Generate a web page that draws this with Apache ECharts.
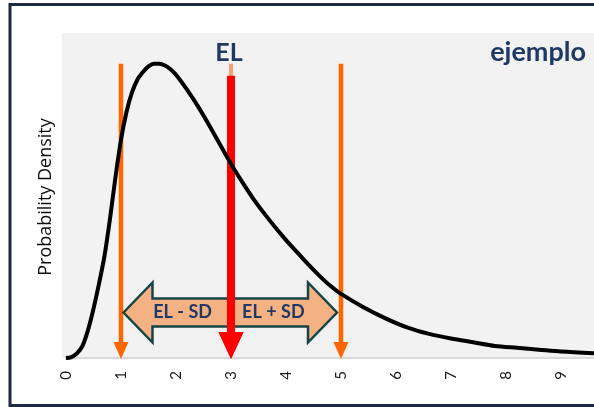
<!DOCTYPE html>
<html>
<head>
<meta charset="utf-8">
<script src="https://cdn.jsdelivr.net/npm/echarts@6/dist/echarts.min.js"></script>
<style>
html,body{margin:0;padding:0;background:#fff;}
#chart{width:594px;height:407px;}
</style>
</head>
<body>
<div id="chart"></div>
<script>
// Curve: x (loss) and probability density
const curveX = [0, 0.1, 0.2, 0.3, 0.4, 0.5, 0.6, 0.7, 0.8, 0.9, 1.0, 1.1, 1.2, 1.3, 1.4, 1.5, 1.6, 1.7, 1.8, 1.9, 2.0, 2.2, 2.4, 2.6, 2.8, 3.0, 3.2, 3.4, 3.6, 3.8, 4.0, 4.2, 4.4, 4.6, 4.8, 5.0, 5.4, 5.8, 6.2, 6.6, 7.0, 7.4, 7.8, 8.2, 8.6, 9.0, 9.6];
const curveY = [0, 0.001, 0.005, 0.013, 0.030, 0.053, 0.080, 0.110, 0.150, 0.195, 0.235, 0.265, 0.286, 0.300, 0.308, 0.314, 0.317, 0.317, 0.315, 0.311, 0.305, 0.289, 0.271, 0.251, 0.230, 0.209, 0.190, 0.172, 0.156, 0.141, 0.127, 0.114, 0.101, 0.089, 0.078, 0.069, 0.055, 0.043, 0.033, 0.026, 0.021, 0.017, 0.013, 0.011, 0.009, 0.007, 0.005];
const xTicks = [0, 1, 2, 3, 4, 5, 6, 7, 8, 9];
const EL = 3;
const SD = 2;
const orangeArrowX = [EL - SD, EL + SD];
const orangeTop = 0.317;
const redTop = 0.304;
const bandY = 0.049;
const bandLabels = ['EL - SD', 'EL + SD'];
const bandLabelX = [2.12, 3.77];
const titleText = 'ejemplo';
const elText = 'EL';
const yTitle = 'Probability Density';

const chart = echarts.init(document.getElementById('chart'), null, {renderer: 'canvas'});
const navy = '#1f3864';

function vArrow(api, x, top, color, lw, headW, headL, opacity) {
  const p0 = api.coord([x, top]);
  const p1 = api.coord([x, 0]);
  return {
    type: 'group',
    children: [
      {type: 'line', shape: {x1: p0[0], y1: p0[1], x2: p1[0], y2: p1[1] - headL + 1},
       style: {stroke: color, lineWidth: lw, opacity: opacity}},
      {type: 'polygon', shape: {points: [[p1[0] - headW / 2, p1[1] - headL], [p1[0] + headW / 2, p1[1] - headL], [p1[0], p1[1] + 1]]},
       style: {fill: color, opacity: opacity}}
    ]
  };
}

chart.setOption({
  animation: false,
  backgroundColor: '#ffffff',
  grid: {left: 66, right: 0, top: 33, bottom: 49, containLabel: false},
  xAxis: {
    type: 'value', min: 0, max: 9.6, interval: 1,
    axisLine: {show: true, lineStyle: {color: '#d9d9d9', width: 2}},
    axisTick: {show: false},
    splitLine: {show: false},
    axisLabel: {
      rotate: 90, margin: 13, fontSize: 15, color: '#1a1a1a', fontFamily: 'Lato',
      formatter: function (v) { return xTicks.indexOf(v) >= 0 ? String(v) : ''; }
    }
  },
  yAxis: {
    type: 'value', min: 0, max: 0.35,
    axisLine: {show: false}, axisTick: {show: false}, axisLabel: {show: false}, splitLine: {show: false}
  },
  graphic: [
    {type: 'rect', z: -10, shape: {x: 62, y: 33, width: 540, height: 325}, style: {fill: '#f2f2f2'}},
    {type: 'rect', z: 100, shape: {x: 10, y: 4.5, width: 600, height: 401}, style: {fill: 'none', stroke: '#1c2b40', lineWidth: 3}},
    {type: 'text', z: 50, x: 46, y: 197, rotation: Math.PI / 2,
     style: {text: yTitle, fontFamily: 'Open Sans', fontSize: 18, fill: '#0d0d0d', align: 'center', verticalAlign: 'middle'}},
    {type: 'text', z: 50, x: 586, y: 52,
     style: {text: titleText, fontFamily: 'Lato', fontWeight: 'bold', fontSize: 27, fill: navy, align: 'right', verticalAlign: 'middle'}}
  ],
  series: [
    {
      type: 'custom', z: 3, silent: true,
      data: orangeArrowX.map(function (x) { return [x]; }),
      renderItem: function (params, api) {
        return vArrow(api, api.value(0), orangeTop, '#ff6600', 4.5, 15, 16, 1);
      }
    },
    {
      type: 'custom', z: 4, silent: true,
      data: [[EL]],
      renderItem: function (params, api) {
        const x = api.value(0);
        const top = api.coord([x, orangeTop]);
        const el = vArrow(api, x, redTop, '#ff0000', 8, 25, 26, 1);
        el.children.unshift({type: 'line', shape: {x1: top[0], y1: top[1], x2: top[0], y2: top[1] + 20}, style: {stroke: '#fb9f74', lineWidth: 4}});
        el.children.push({type: 'text', style: {text: elText, x: top[0] - 2, y: top[1] - 11, fontFamily: 'Lato', fontWeight: 'bold', fontSize: 25, fill: navy, align: 'center', verticalAlign: 'middle'}});
        return el;
      }
    },
    {
      type: 'line', z: 5, silent: true,
      data: curveX.map(function (x, i) { return [x, curveY[i]]; }),
      smooth: 0.3, showSymbol: false,
      lineStyle: {color: '#000000', width: 4}
    },
    {
      type: 'custom', z: 6, silent: true,
      data: [[orangeArrowX[0], orangeArrowX[1], bandY]],
      renderItem: function (params, api) {
        const a = api.coord([api.value(0), api.value(2)]);
        const b = api.coord([api.value(1), api.value(2)]);
        const xl = a[0] + 2.5, xr = b[0] - 4, cy = a[1];
        const hl = 29, hh = 30, sh = 14;
        const pts = [
          [xl, cy], [xl + hl, cy - hh], [xl + hl, cy - sh], [xr - hl, cy - sh], [xr - hl, cy - hh],
          [xr, cy], [xr - hl, cy + hh], [xr - hl, cy + sh], [xl + hl, cy + sh], [xl + hl, cy + hh]
        ];
        const children = [{type: 'polygon', shape: {points: pts}, style: {fill: '#f4b183', stroke: '#174444', lineWidth: 2.5, lineJoin: 'miter'}}];
        bandLabels.forEach(function (t, i) {
          const p = api.coord([bandLabelX[i], api.value(2)]);
          children.push({type: 'text', style: {text: t, x: p[0], y: p[1], fontFamily: 'Lato', fontWeight: 'bold', fontSize: 18, fill: navy, align: 'center', verticalAlign: 'middle'}});
        });
        return {type: 'group', children: children};
      }
    },
    {
      type: 'custom', z: 7, silent: true,
      data: [[EL]],
      renderItem: function (params, api) {
        const x = api.value(0);
        const p0 = api.coord([x, bandY + 0.02]);
        const p1 = api.coord([x, 0]);
        return {type: 'group', children: [
          {type: 'line', shape: {x1: p0[0], y1: p0[1], x2: p1[0], y2: p1[1] - 25}, style: {stroke: '#ff0000', lineWidth: 8}},
          {type: 'polygon', shape: {points: [[p1[0] - 12.5, p1[1] - 26], [p1[0] + 12.5, p1[1] - 26], [p1[0], p1[1] + 1]]}, style: {fill: '#ff0000'}}
        ]};
      }
    }
  ]
});
</script>
</body>
</html>
